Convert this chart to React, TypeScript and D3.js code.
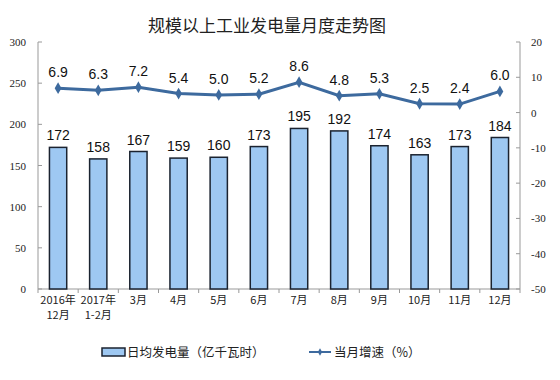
import React from "react";
import * as d3 from "d3";

const categories = ["2016年\n12月", "2017年\n1-2月", "3月", "4月", "5月", "6月", "7月", "8月", "9月", "10月", "11月", "12月"];
const dailyOutput = [172, 158, 167, 159, 160, 173, 195, 192, 174, 163, 173, 184];
const growthRate = [6.9, 6.3, 7.2, 5.4, 5.0, 5.2, 8.6, 4.8, 5.3, 2.5, 2.4, 6.0];
const leftTicks = [0, 50, 100, 150, 200, 250, 300];
const rightTicks = [-50, -40, -30, -20, -10, 0, 10, 20];
const title = "规模以上工业发电量月度走势图";
const legendBar = "日均发电量（亿千瓦时）";
const legendLine = "当月增速（%）";

const W = 560, H = 380;
const M = { left: 38, right: 40, top: 42, bottom: 91 };

export default function App() {
  const x = d3.scaleBand<string>().domain(categories).range([M.left, W - M.right]).paddingInner(0.57).paddingOuter(0.285);
  const yL = d3.scaleLinear().domain([0, 300]).range([H - M.bottom, M.top]);
  const yR = d3.scaleLinear().domain([-50, 20]).range([H - M.bottom, M.top]);
  const step = x.step();
  const cx = (c: string) => (x(c) ?? 0) + x.bandwidth() / 2;
  const line = d3.line<number>().x((_, i) => cx(categories[i])).y((d) => yR(d));
  const lineColor = "#3D6A9E";
  const serif = "'Liberation Serif', 'Times New Roman', serif";
  const cjk = "'Noto Sans CJK SC', sans-serif";
  const sans = "'Liberation Sans', Arial, sans-serif";
  const baseY = yL(0);
  const bounds = [M.left, ...categories.map((_, i) => M.left + (i + 1) * ((W - M.right - M.left) / categories.length))];

  return (
    <svg width={W} height={H} style={{ position: "absolute", left: 0, top: 0, background: "#fff" }}>
      <text x={267} y={32} textAnchor="middle" fontFamily={cjk} fontSize={17} fill="#222">{title}</text>
      {/* left axis */}
      <line x1={M.left} x2={M.left} y1={M.top} y2={baseY} stroke="#999" />
      {leftTicks.map((t) => (
        <g key={"l" + t}>
          <line x1={M.left} x2={M.left + 4} y1={yL(t)} y2={yL(t)} stroke="#999" />
          <text x={26} y={yL(t) + 4} textAnchor="end" fontFamily={serif} fontSize={11} fill="#222">{t}</text>
        </g>
      ))}
      {/* right axis */}
      <line x1={W - M.right} x2={W - M.right} y1={M.top} y2={baseY} stroke="#999" />
      {rightTicks.map((t) => (
        <g key={"r" + t}>
          <line x1={W - M.right - 4} x2={W - M.right} y1={yR(t)} y2={yR(t)} stroke="#999" />
          <text x={531} y={yR(t) + 4} textAnchor="start" fontFamily={serif} fontSize={11} fill="#222">{t}</text>
        </g>
      ))}
      {/* x axis */}
      <line x1={M.left} x2={W - M.right} y1={baseY} y2={baseY} stroke="#999" />
      {bounds.map((b, i) => (
        <line key={"xt" + i} x1={b} x2={b} y1={baseY} y2={baseY + 4} stroke="#999" />
      ))}
      {categories.map((c) => (
        <text key={"xl" + c} x={cx(c)} y={baseY + 15} textAnchor="middle" fontFamily={cjk} fontSize={11} fill="#222">
          {c.split("\n").map((s, j) => (
            <tspan key={j} x={cx(c)} dy={j === 0 ? 0 : 15}>{s}</tspan>
          ))}
        </text>
      ))}
      {/* bars */}
      {dailyOutput.map((v, i) => (
        <g key={"b" + i}>
          <rect x={x(categories[i])} y={yL(v)} width={x.bandwidth()} height={baseY - yL(v)} fill="#9EC8F2" stroke="#1B2330" strokeWidth={1.5} />
          <text x={cx(categories[i])} y={yL(v) - 7} textAnchor="middle" fontFamily={sans} fontSize={14} fill="#111">{v}</text>
        </g>
      ))}
      {/* line */}
      <path d={line(growthRate) ?? ""} fill="none" stroke={lineColor} strokeWidth={3} />
      {growthRate.map((v, i) => (
        <g key={"p" + i}>
          <path d={d3.symbol(d3.symbolDiamond, 40)() ?? ""} transform={`translate(${cx(categories[i])},${yR(v)})`} fill={lineColor} />
          <text x={cx(categories[i])} y={yR(v) - 11} textAnchor="middle" fontFamily={sans} fontSize={14} fill="#111">{v.toFixed(1)}</text>
        </g>
      ))}
      {/* legend */}
      <rect x={102} y={348} width={23} height={8} fill="#9EC8F2" stroke="#1B2330" strokeWidth={1.5} />
      <text x={127} y={357} fontFamily={cjk} fontSize={12.5} fill="#222">{legendBar}</text>
      <line x1={309} x2={331} y1={352} y2={352} stroke={lineColor} strokeWidth={2} />
      <path d={d3.symbol(d3.symbolDiamond, 16)() ?? ""} transform="translate(320,352)" fill={lineColor} />
      <text x={334} y={357} fontFamily={cjk} fontSize={12.5} fill="#222">{legendLine}</text>
    </svg>
  );
}
